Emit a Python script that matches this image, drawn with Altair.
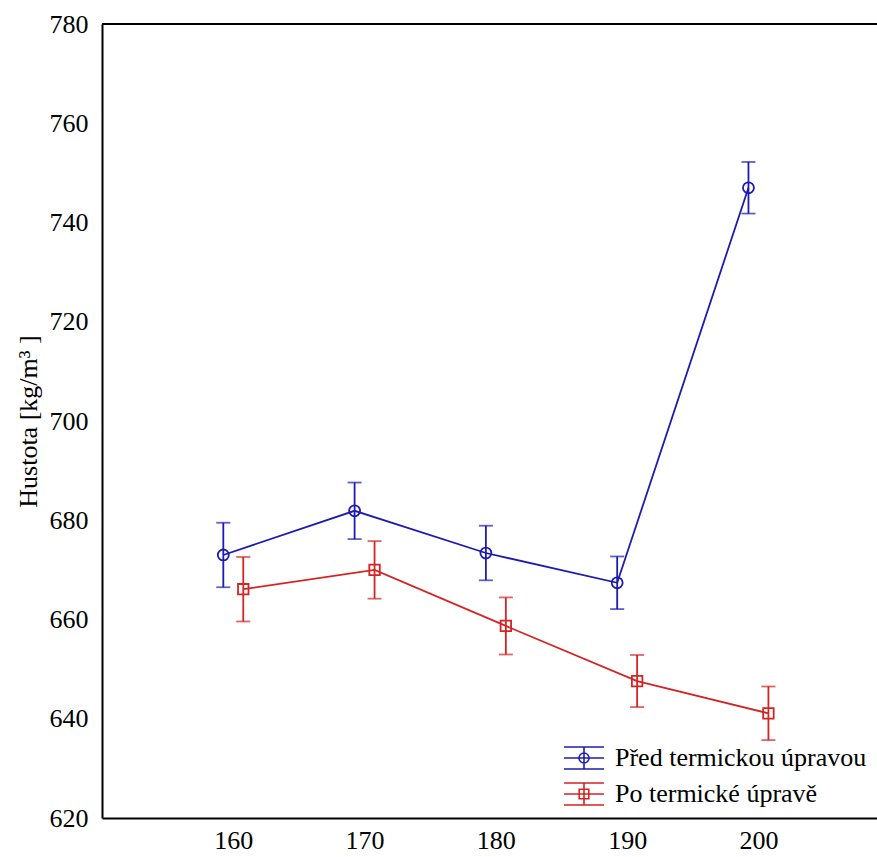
import altair as alt
import pandas as pd

teploty = [160, 170, 180, 190, 200]
serie = ["Před termickou úpravou", "Po termické úpravě"]
pred_hustota = [673.0, 681.9, 673.4, 667.4, 747.0]
pred_chyba = [6.5, 5.7, 5.5, 5.3, 5.2]
po_hustota = [666.1, 670.0, 658.7, 647.6, 641.1]
po_chyba = [6.5, 5.8, 5.75, 5.25, 5.4]

barvy = ["#1c1cb0", "#d42424"]
tvary = ["circle", "square"]
posun = [-0.76, 0.76]  # horizontal offset of each series (styling)

rows = []
for i, t in enumerate(teploty):
    rows.append({"serie": serie[0], "teplota": t, "hustota": pred_hustota[i], "chyba": pred_chyba[i], "posun": posun[0]})
    rows.append({"serie": serie[1], "teplota": t, "hustota": po_hustota[i], "chyba": po_chyba[i], "posun": posun[1]})
df = pd.DataFrame(rows)

FONT = "Liberation Serif, Times New Roman, DejaVu Serif, serif"

xs = alt.Scale(domain=[150, 209.03], nice=False, zero=False)
ys = alt.Scale(domain=[620, 780], nice=False, zero=False)

x_enc = alt.X("xpos:Q", scale=xs,
              axis=alt.Axis(values=teploty, title=None, ticks=False, grid=False,
                            labelFont=FONT, labelFontSize=26, labelColor="black",
                            labelPadding=9, domainColor="black", domainWidth=2))
y_enc = alt.Y("hustota:Q", scale=ys,
              axis=alt.Axis(values=list(range(620, 781, 20)), ticks=False, grid=False,
                            labelFont=FONT, labelFontSize=26, labelColor="black", labelPadding=14,
                            domainColor="black", domainWidth=2,
                            title="Hustota [kg/m³ ]", titleFont=FONT, titleFontSize=26,
                            titleFontWeight="normal", titleColor="black", titlePadding=8))

base = alt.Chart(df).transform_calculate(
    xpos="datum.teplota + datum.posun",
    lo="datum.hustota - datum.chyba",
    hi="datum.hustota + datum.chyba",
)

circle_path = ("M-1,-0.55H1M-1,0H1M-1,0.55H1M0,-0.55V0.55"
               "M0.25,0A0.25,0.25 0 1,1 -0.25,0A0.25,0.25 0 1,1 0.25,0")
square_path = ("M-1,-0.55H1M-1,0H1M-1,0.55H1M0,-0.55V0.55"
               "M-0.24,-0.24H0.24V0.24H-0.24Z")

leg = alt.Legend(title=None, orient="none", legendX=461, legendY=713,
                 symbolOpacity=1, symbolSize=1600, symbolStrokeWidth=1.6,
                 symbolFillColor="transparent",
                 labelFont=FONT, labelFontSize=26, labelColor="black",
                 labelOffset=10, rowPadding=-2, labelLimit=400, padding=0)

# legend-only layer (invisible marks)
legend_layer = base.mark_point(filled=False, opacity=0, size=1600, strokeWidth=1.6).encode(
    x=x_enc,
    y=y_enc,
    color=alt.Color("serie:N", scale=alt.Scale(domain=serie, range=barvy), legend=leg),
    shape=alt.Shape("serie:N", scale=alt.Scale(domain=serie, range=[circle_path, square_path]), legend=leg),
)

layers = [legend_layer]
for i, s in enumerate(serie):
    b = base.transform_filter(alt.datum.serie == s)
    c = barvy[i]
    layers.append(b.mark_line(strokeWidth=1.8, color=c).encode(x="xpos:Q", y="hustota:Q"))
    layers.append(b.mark_rule(strokeWidth=1.8, color=c).encode(x="xpos:Q", y="lo:Q", y2="hi:Q"))
    layers.append(b.mark_tick(orient="horizontal", size=14, thickness=1.8, color=c).encode(x="xpos:Q", y="lo:Q"))
    layers.append(b.mark_tick(orient="horizontal", size=14, thickness=1.8, color=c).encode(x="xpos:Q", y="hi:Q"))
    layers.append(b.mark_point(shape=tvary[i], size=120 if i == 0 else 110, filled=False,
                               strokeWidth=1.8, opacity=1, color=c).encode(x="xpos:Q", y="hustota:Q"))

top_rule = alt.Chart(alt.Data(values=[{"v": 780}])).mark_rule(color="black", strokeWidth=2).encode(
    y=alt.Y("v:Q", scale=ys))
layers.append(top_rule)

chart = alt.layer(*layers).properties(
    width=775, height=794,
    autosize=alt.AutoSizeParams(type="none"),
    padding={"left": 102, "top": 24, "right": 0, "bottom": 39},
    background="white",
).configure_view(stroke=None)

chart.save("out.html", embed_options={"renderer": "svg", "actions": False})
